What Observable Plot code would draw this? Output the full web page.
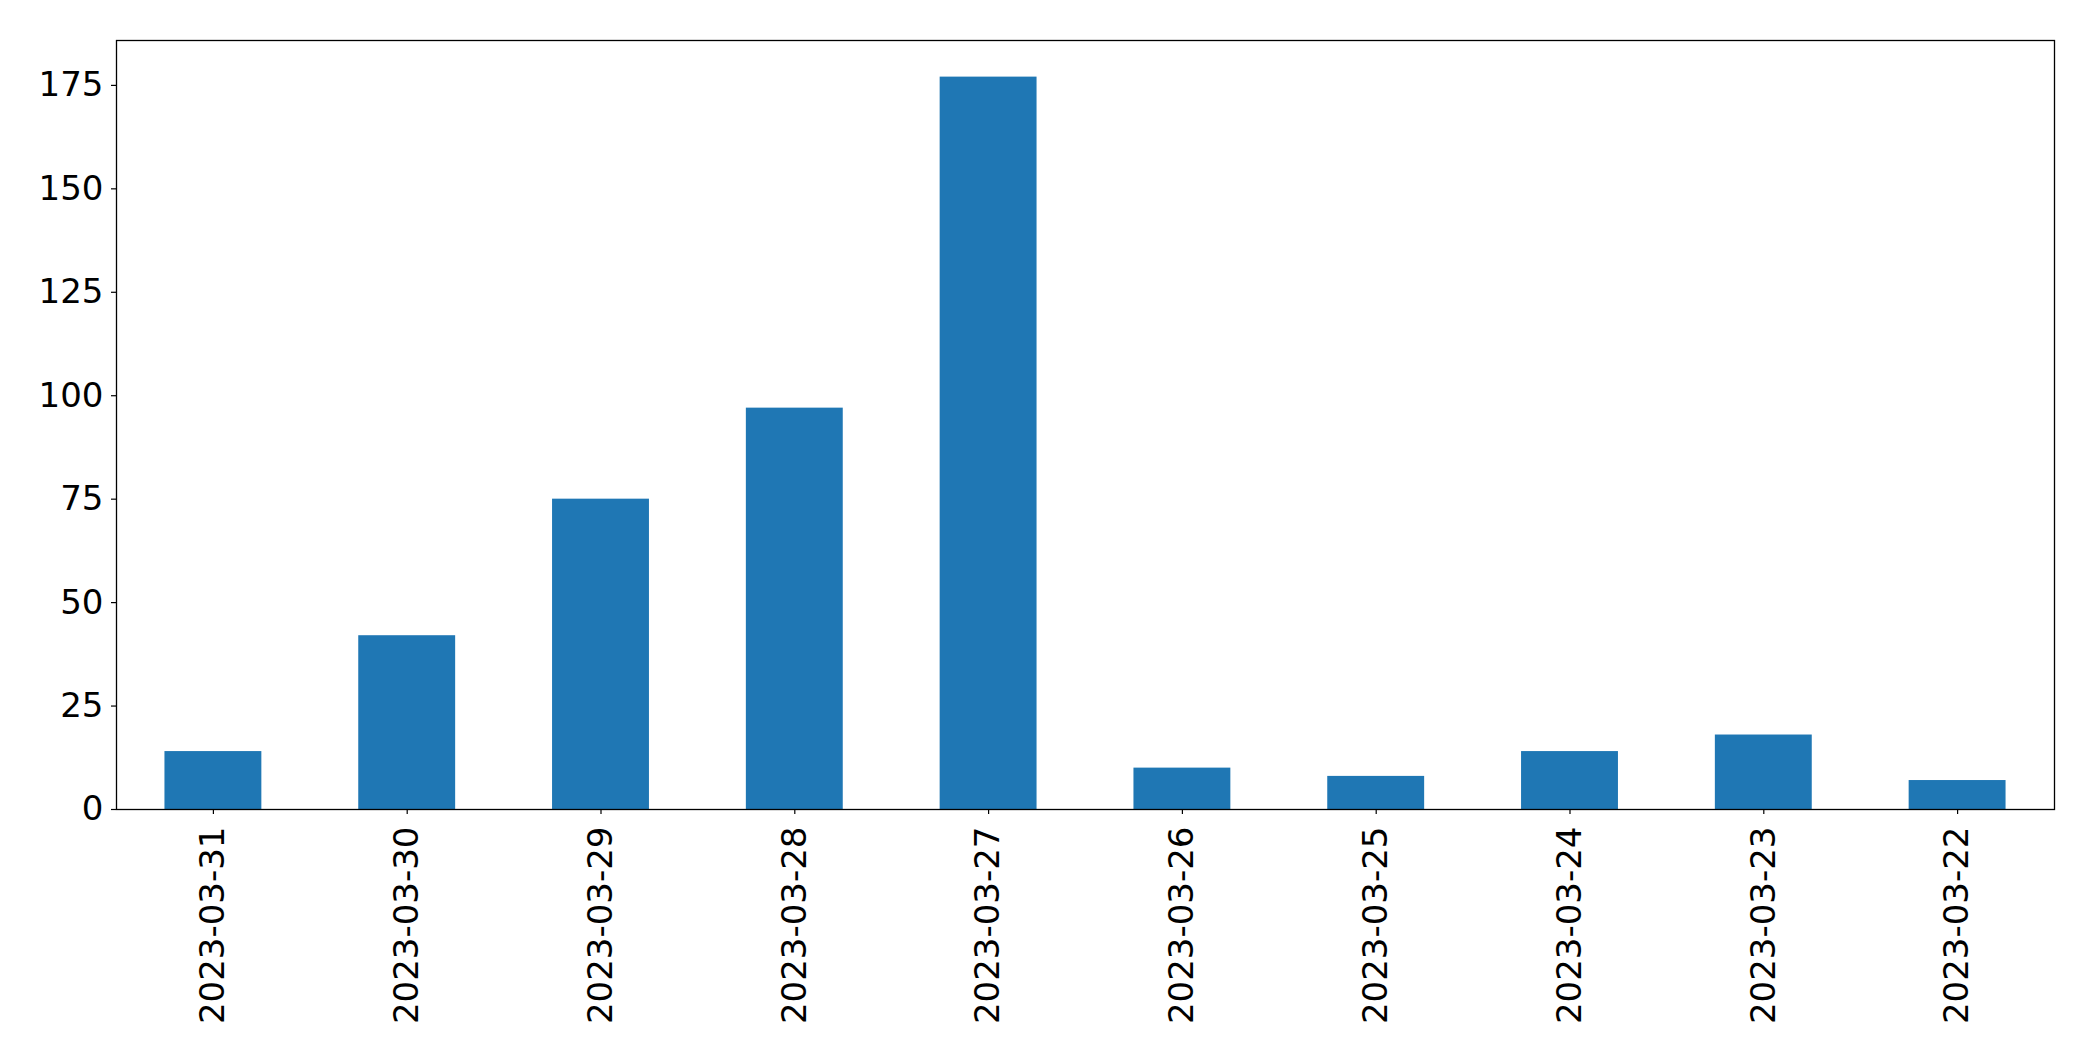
<!DOCTYPE html>
<html>
<head>
<meta charset="utf-8">
<script src="https://cdn.jsdelivr.net/npm/d3@7"></script>
<script src="https://cdn.jsdelivr.net/npm/@observablehq/plot@0.6"></script>
<style>
  html, body { margin: 0; padding: 0; background: #fff; }
  #chart svg { display: block; font-family: "DejaVu Sans", sans-serif; }
</style>
</head>
<body>
<div id="chart"></div>
<script>
const dates = ["2023-03-31","2023-03-30","2023-03-29","2023-03-28","2023-03-27","2023-03-26","2023-03-25","2023-03-24","2023-03-23","2023-03-22"];
const counts = [14, 42, 75, 97, 177, 10, 8, 14, 18, 7];
const yTicks = [0, 25, 50, 75, 100, 125, 150, 175];

const data = dates.map((d, i) => ({date: d, count: counts[i]}));

const chart = Plot.plot({
  width: 2093,
  height: 1061,
  marginLeft: 116,
  marginRight: 39,
  marginTop: 40,
  marginBottom: 252,
  style: {fontFamily: "DejaVu Sans, sans-serif", fontSize: "34px", color: "black", background: "white"},
  x: {domain: dates, paddingInner: 0.5, paddingOuter: 0.25, round: false, label: null},
  y: {domain: [0, 177 * 1.05], label: null},
  marks: [
    Plot.barY(data, {x: "date", y: "count", fill: "#1f77b4"}),
    Plot.frame({stroke: "black", strokeWidth: 1.3}),
    Plot.axisY({ticks: yTicks, tickSize: 5, tickPadding: 8, label: null, fontSize: 34, stroke: "black", strokeWidth: 1.2}),
    Plot.axisX({tickSize: 5, tickPadding: 12, tickRotate: -90, label: null, fontSize: 34, stroke: "black", strokeWidth: 1.2})
  ]
});
document.getElementById("chart").appendChild(chart);
</script>
</body>
</html>
